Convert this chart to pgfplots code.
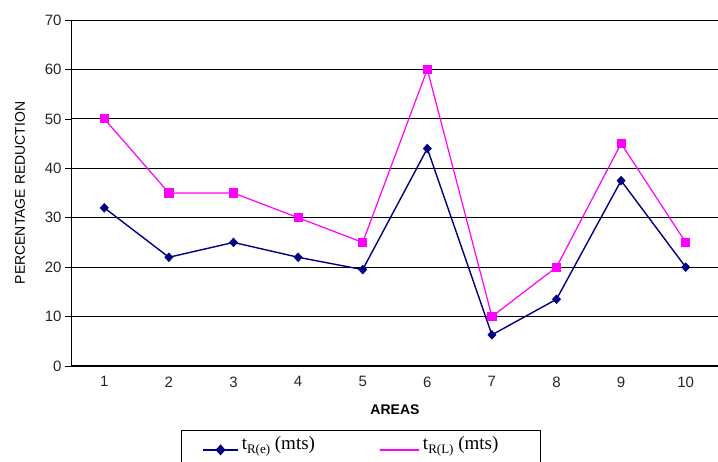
\documentclass[border=0pt]{standalone}
\usepackage{fontspec}
\setmainfont{Liberation Sans}
\newfontfamily\legfont{Liberation Serif}
\usepackage{pgfplots}
\pgfplotsset{compat=1.18}
\definecolor{navy}{HTML}{000080}
\definecolor{mag}{HTML}{FF00FF}
\begin{document}
\begin{tikzpicture}
\useasboundingbox (0,0) rectangle (718pt,462pt);
\clip (0,0) rectangle (718pt,462pt);
\begin{axis}[
  at={(72pt,96pt)}, anchor=south west,
  scale only axis, width=646pt, height=346pt,
  xmin=0.5, xmax=10.5, ymin=0, ymax=70,
  axis lines*=left,
  axis line style={black, line width=1pt},
  xtick={1,...,10},
  xtick style={draw=none},
  extra x ticks={0.5,1.5,...,10.5},
  extra x tick labels={},
  extra x tick style={major tick length=6pt, tick align=outside, grid=none, tick style={draw=black, line width=0.6pt}},
  ytick={0,10,...,70},
  ymajorgrids,
  grid style={black, line width=0.8pt},
  y tick style={black, line width=0.6pt},
  tick align=outside,
  major tick length=7pt,
  ticklabel style={font=\fontsize{15}{17}\selectfont, color=black!85},
  /pgf/number format/assume math mode=true,
  xlabel={\textbf{AREAS}},
  ylabel={PERCENTAGE REDUCTION},
  label style={font=\fontsize{14}{16}\selectfont},
  xlabel style={at={(axis description cs:0.5,0)}, anchor=center, yshift=-44pt},
  ylabel style={at={(axis description cs:-0.0805,0.5)}, anchor=center},
  legend style={at={(axis description cs:0.1687,-0.185)}, anchor=north west,
    draw=black, line width=0.8pt, legend columns=2,
    inner xsep=0pt, inner ysep=0pt,
    nodes={font=\legfont\fontsize{19}{22}\selectfont, text depth=20pt, text height=19pt, inner sep=0pt},
    /tikz/every odd column/.append style={column sep=3pt},
    /tikz/every even column/.append style={column sep=61pt},
  },
]
\addplot[navy, line width=1.4pt, mark=diamond*, mark size=4.4pt, mark options={fill=navy, draw=navy, line width=0.5pt, xscale=1.25}, 
  legend image code/.code={\path (0pt,0pt);
  \draw[navy, line width=1.4pt] (21pt,0pt) -- (56pt,0pt);
  \fill[navy] (38.5pt,4.5pt) -- (42.5pt,0pt) -- (38.5pt,-4.5pt) -- (34.5pt,0pt) -- cycle;}]
  coordinates {(1,32) (2,22) (3,25) (4,22) (5,19.5) (6,44) (7,6.3) (8,13.5) (9,37.5) (10,20)};
\addlegendentry{\makebox[77pt][l]{t\raisebox{-4pt}{\fontsize{13}{13}\selectfont R(e)} (mts)}}
\addplot[mag, line width=1.2pt, mark=square*, mark size=4pt, mark options={fill=mag, draw=mag},
  legend image code/.code={\draw[mag, line width=1.2pt] (0pt,0pt) -- (39pt,0pt);}]
  coordinates {(1,50) (2,35) (3,35) (4,30) (5,25) (6,60) (7,10) (8,20) (9,45) (10,25)};
\addlegendentry{\makebox[117pt][l]{t\raisebox{-4pt}{\fontsize{13}{13}\selectfont R(L)} (mts)}}
\end{axis}
\end{tikzpicture}
\end{document}
